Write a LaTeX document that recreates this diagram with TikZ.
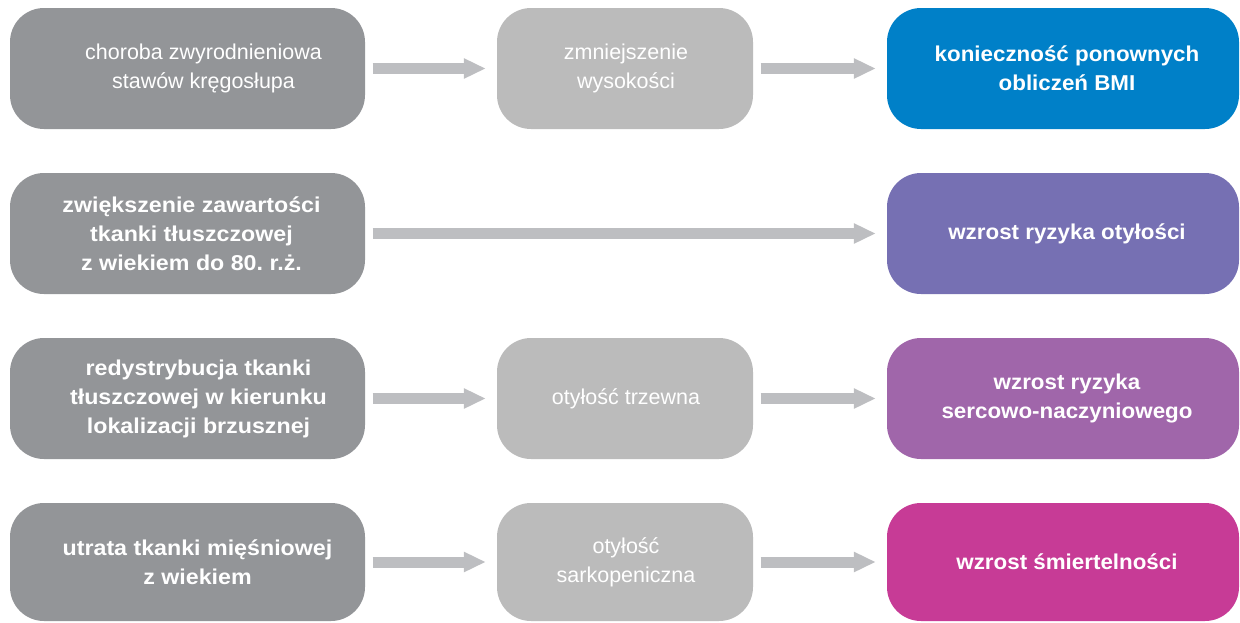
\documentclass[tikz,border=0pt]{standalone}
\usepackage{fontspec}
\setmainfont{Liberation Sans}
\newfontfamily\boldwide[FakeStretch=1.08]{Liberation Sans Bold}
\newfontfamily\boldcol[FakeStretch=1.04]{Liberation Sans Bold}
\frenchspacing
\usetikzlibrary{arrows.meta}
\definecolor{dgray}{HTML}{939598}
\definecolor{lgray}{HTML}{BBBBBB}
\definecolor{agray}{HTML}{BDBEC1}
\definecolor{cblue}{HTML}{0080C8}
\definecolor{cpurple}{HTML}{7670B3}
\definecolor{cviolet}{HTML}{A066AA}
\definecolor{cmagenta}{HTML}{C73B96}
\tikzset{
  box/.style={rounded corners=34pt, inner sep=0pt, minimum height=121pt},
  leftbox/.style={box, fill=dgray, minimum width=355pt},
  midbox/.style={box, fill=lgray, minimum width=256pt},
  rightbox/.style={box, minimum width=352pt},
  txt/.style={inner sep=0pt, align=center, text=white, font=\fontsize{21.5}{29}\selectfont},
  txtb/.style={txt, font=\fontsize{21.5}{29}\boldwide},
  txtc/.style={txt, font=\fontsize{21.5}{29}\boldcol},
  arr/.style={draw=agray, line width=11pt, -{Triangle[length=22pt,width=19pt]},
    shorten <=7.5pt, shorten >=11pt}
}
\begin{document}
\begin{tikzpicture}[x=1pt,y=-1pt]
\useasboundingbox (0,0) rectangle (1240,622);
% boxes
\node[leftbox] (l1) at (187.5,68.5) {};
\node[midbox] (m1) at (625,68.5) {};
\node[rightbox, fill=cblue] (r1) at (1063,68.5) {};
\node[leftbox] (l2) at (187.5,233.5) {};
\node[rightbox, fill=cpurple] (r2) at (1063,233.5) {};
\node[leftbox] (l3) at (187.5,398.5) {};
\node[midbox] (m3) at (625,398.5) {};
\node[rightbox, fill=cviolet] (r3) at (1063,398.5) {};
\node[leftbox, minimum height=118pt] (l4) at (187.5,562) {};
\node[midbox, minimum height=118pt] (m4) at (625,562) {};
\node[rightbox, fill=cmagenta, minimum height=118pt] (r4) at (1063,562) {};
% texts
\node[txt] (l1t) at ([xshift=16pt]l1.center) {choroba zwyrodnieniowa\\stawów kręgosłupa};
\node[txt] (m1t) at ([xshift=1pt]m1.center) {zmniejszenie\\wysokości};
\node[txtc] (r1t) at ([xshift=4pt]r1.center) {konieczność ponownych\\obliczeń BMI};
\node[txtb] (l2t) at ([xshift=4pt]l2.center) {zwiększenie zawartości\\tkanki tłuszczowej\\z wiekiem do 80. r.ż.};
\node[txtc] (r2t) at ([xshift=4pt]r2.center) {wzrost ryzyka otyłości};
\node[txtb] (l3t) at ([xshift=11pt]l3.center) {redystrybucja tkanki\\tłuszczowej w kierunku\\lokalizacji brzusznej};
\node[txt] (m3t) at ([xshift=1pt]m3.center) {otyłość trzewna};
\node[txtc] (r3t) at ([xshift=4pt]r3.center) {wzrost ryzyka\\sercowo-naczyniowego};
\node[txtb] (l4t) at ([xshift=10pt]l4.center) {utrata tkanki mięśniowej\\z wiekiem};
\node[txt] (m4t) at ([xshift=1pt]m4.center) {otyłość\\sarkopeniczna};
\node[txtc] (r4t) at ([xshift=4pt]r4.center) {wzrost śmiertelności};
% arrows
\draw[arr] (l1) -- (m1);
\draw[arr] (m1) -- (r1);
\draw[arr] (l2) -- (r2);
\draw[arr] (l3) -- (m3);
\draw[arr] (m3) -- (r3);
\draw[arr] (l4) -- (m4);
\draw[arr] (m4) -- (r4);
\end{tikzpicture}
\end{document}
